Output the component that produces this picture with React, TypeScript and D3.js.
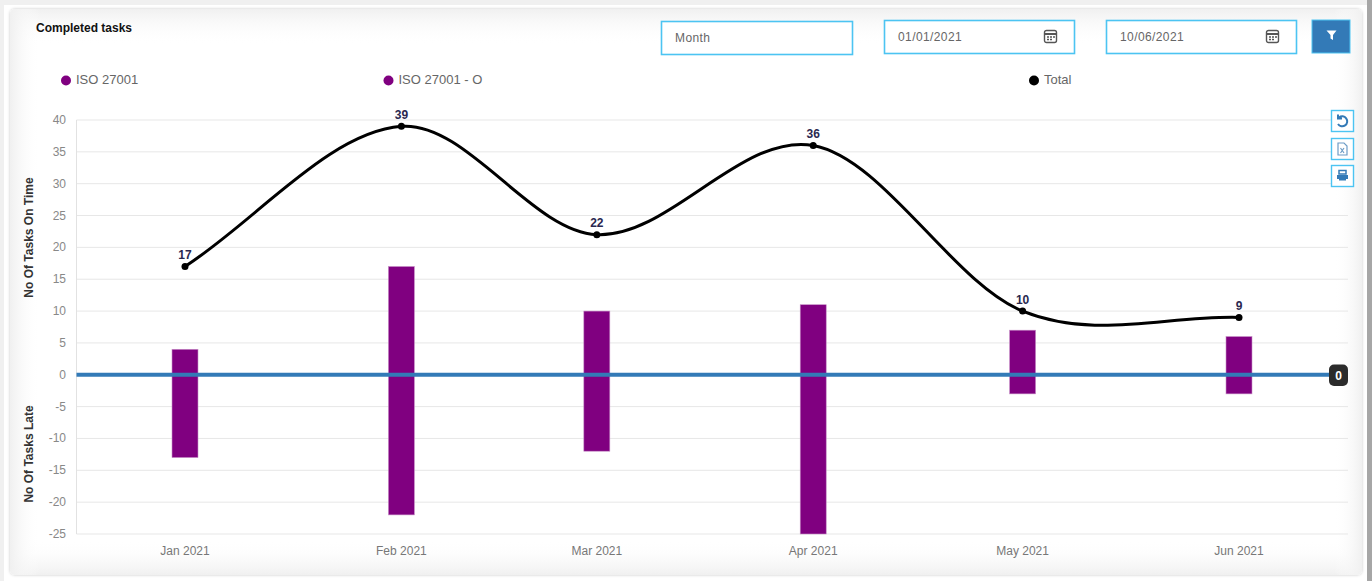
import React from "react";
import * as d3 from "d3";

// Monthly completed-task figures
const months = ["2021-01-01", "2021-02-01", "2021-03-01", "2021-04-01", "2021-05-01", "2021-06-01"];
const monthLabels = ["Jan 2021", "Feb 2021", "Mar 2021", "Apr 2021", "May 2021", "Jun 2021"];
const onTime = [4, 17, 10, 11, 7, 6];
const late = [-13, -22, -12, -25, -3, -3];
const totals = [17, 39, 22, 36, 10, 9];
const yTicks = [40, 35, 30, 25, 20, 15, 10, 5, 0, -5, -10, -15, -20, -25];
const legendItems = [
  { label: "ISO 27001", color: "#800080", x: 66 },
  { label: "ISO 27001 - O", color: "#800080", x: 388.5 },
  { label: "Total", color: "#000000", x: 1034 },
];

const W = 1372;
const H = 581;
const plot = { left: 76.5, right: 1348, top: 120, bottom: 534 };
const FONT = "'Liberation Sans', Arial, sans-serif";
const BLUE = "#337ab7";
const CYAN = "#4cc4f2";

const x = d3
  .scaleUtc()
  .domain([new Date(months[0]), new Date(months[5])])
  .range([185, 1239]);
const y = d3.scaleLinear().domain([40, -25]).range([plot.top, plot.bottom]);

// Smooth spline through the totals: interior tangents follow the neighbouring
// points, end tangents follow the adjacent chord, handles span a third of each gap.
function splinePath(values: number[]): string {
  const pts = values.map((v, i) => [x(new Date(months[i])), y(v)] as [number, number]);
  const slope = (i: number) => {
    const a = pts[Math.max(i - 1, 0)];
    const b = pts[Math.min(i + 1, pts.length - 1)];
    return (b[1] - a[1]) / (b[0] - a[0]);
  };
  const p = d3.path();
  p.moveTo(pts[0][0], pts[0][1]);
  for (let i = 0; i < pts.length - 1; i++) {
    const h = (pts[i + 1][0] - pts[i][0]) / 3;
    p.bezierCurveTo(
      pts[i][0] + h,
      pts[i][1] + slope(i) * h,
      pts[i + 1][0] - h,
      pts[i + 1][1] - slope(i + 1) * h,
      pts[i + 1][0],
      pts[i + 1][1],
    );
  }
  return p.toString();
}

function InputBox({ bx, by, w, text, calendar }: { bx: number; by: number; w: number; text: string; calendar?: boolean }) {
  return (
    <g>
      <rect x={bx + 0.5} y={by + 0.5} width={w} height={33} fill="#fff" stroke={CYAN} strokeWidth={1.6} />
      <text x={bx + 14} y={by + 21} fontSize={12} letterSpacing={0.4} fill="#666">
        {text}
      </text>
      {calendar && (
        <g transform={`translate(${bx + w - 30},${by + 10})`} fill="none" stroke="#555" strokeWidth={1.4}>
          <rect x={0.5} y={0.5} width={12} height={12} rx={2} />
          <path d="M0.5 4H12.5" strokeWidth={2} />
          <path d="M3 7H5M6 7H8M9 7H11M3 9.5H5M6 9.5H8" strokeWidth={1.4} />
        </g>
      )}
    </g>
  );
}

function IconBox({ by, children }: { by: number; children: React.ReactNode }) {
  return (
    <g transform={`translate(1331,${by})`}>
      <rect x={0.5} y={0.5} width={22} height={21} fill="#fff" stroke={CYAN} strokeWidth={1.4} />
      {children}
    </g>
  );
}

export default function App() {
  const barW = 26;
  return (
    <svg
      width={W}
      height={H}
      viewBox={`0 0 ${W} ${H}`}
      style={{ position: "absolute", left: 0, top: 0, fontFamily: FONT }}
    >
      <defs>
        <linearGradient id="topFade" x1="0" x2="0" y1="0" y2="1">
          <stop offset="0" stopColor="#f0f0f0" />
          <stop offset="1" stopColor="#ffffff" stopOpacity={0} />
        </linearGradient>
        <linearGradient id="bottomFade" x1="0" x2="0" y1="0" y2="1">
          <stop offset="0" stopColor="#ffffff" stopOpacity={0} />
          <stop offset="1" stopColor="#f0f0f0" />
        </linearGradient>
        <linearGradient id="leftFade" x1="0" x2="1" y1="0" y2="0">
          <stop offset="0" stopColor="#f0f0f0" />
          <stop offset="1" stopColor="#ffffff" stopOpacity={0} />
        </linearGradient>
        <linearGradient id="rightFade" x1="0" x2="1" y1="0" y2="0">
          <stop offset="0" stopColor="#ffffff" stopOpacity={0} />
          <stop offset="1" stopColor="#f0f0f0" />
        </linearGradient>
        <filter id="cardShadow" x="-2%" y="-2%" width="104%" height="104%">
          <feDropShadow dx={0} dy={0} stdDeviation={1.6} floodColor="#000" floodOpacity={0.22} />
        </filter>
      </defs>

      {/* page backdrop */}
      <rect width={W} height={H} fill="#ffffff" />
      <rect x={0} y={0} width={W} height={5} fill="#f0f0f0" />
      <rect x={0} y={0} width={4} height={H} fill="#f0f0f0" />
      <rect x={1367} y={0} width={5} height={H} fill="#a6a6a6" />

      {/* card */}
      <rect x={10} y={9} width={1352} height={566} rx={5} fill="#fff" filter="url(#cardShadow)" />
      <rect x={10} y={9} width={1352} height={36} rx={5} fill="url(#topFade)" />
      <rect x={10} y={540} width={1352} height={35} rx={5} fill="url(#bottomFade)" />
      <rect x={10} y={9} width={30} height={566} rx={5} fill="url(#leftFade)" />
      <rect x={1334} y={9} width={28} height={566} rx={5} fill="url(#rightFade)" />

      <text x={36} y={32} fontSize={12} fontWeight={700} fill="#111">
        Completed tasks
      </text>

      {/* filter controls */}
      <InputBox bx={661} by={21} w={191} text="Month" />
      <InputBox bx={884} by={20} w={190} text="01/01/2021" calendar />
      <InputBox bx={1106} by={20} w={190} text="10/06/2021" calendar />
      <rect x={1312} y={20} width={38} height={33} fill={BLUE} stroke={CYAN} strokeWidth={1} />
      <path d="M1326.5 30.5H1336.5L1333 35V40L1330.5 38.5V35Z" fill="#fff" />

      {/* legend */}
      {legendItems.map((d) => (
        <g key={d.label}>
          <circle cx={d.x} cy={80.5} r={5} fill={d.color} />
          <text x={d.x + 10} y={83.5} fontSize={13} fill="#666">
            {d.label}
          </text>
        </g>
      ))}

      {/* grid and value axis */}
      {yTicks.map((t) => (
        <g key={t}>
          <line x1={plot.left} x2={plot.right} y1={y(t)} y2={y(t)} stroke="#e7e7e7" strokeWidth={1} />
          <text x={66} y={y(t) + 4} textAnchor="end" fontSize={12} fill="#888">
            {t}
          </text>
        </g>
      ))}
      <line x1={plot.left} x2={plot.left} y1={plot.top} y2={plot.bottom} stroke="#e2e2e2" />

      <text
        transform="translate(33,237.5) rotate(-90)"
        textAnchor="middle"
        fontSize={12}
        fontWeight={700}
        fill="#333"
      >
        No Of Tasks On Time
      </text>
      <text
        transform="translate(33,454) rotate(-90)"
        textAnchor="middle"
        fontSize={12}
        fontWeight={700}
        fill="#333"
      >
        No Of Tasks Late
      </text>

      {/* stacked bars either side of zero */}
      {months.map((m, i) => {
        const cx = x(new Date(m));
        return (
          <g key={m} stroke="#c78fc7" strokeWidth={0.6}>
            <rect x={cx - barW / 2} y={y(onTime[i])} width={barW} height={y(0) - y(onTime[i])} fill="#800080" />
            <rect x={cx - barW / 2} y={y(0)} width={barW} height={y(late[i]) - y(0)} fill="#800080" />
          </g>
        );
      })}

      {/* zero reference line with its badge */}
      <line x1={plot.left} x2={plot.right} y1={y(0)} y2={y(0)} stroke={BLUE} strokeWidth={4} />
      <rect x={1329} y={364.5} width={19} height={21.5} rx={5} fill="#2b2b2b" />
      <text x={1338.5} y={379.5} textAnchor="middle" fontSize={12} fontWeight={700} fill="#fff">
        0
      </text>

      {/* total line */}
      <path d={splinePath(totals)} fill="none" stroke="#000" strokeWidth={3} />
      {totals.map((t, i) => {
        const cx = x(new Date(months[i]));
        return (
          <g key={months[i]}>
            <circle cx={cx} cy={y(t)} r={3.5} fill="#000" />
            <text x={cx} y={y(t) - 7.5} textAnchor="middle" fontSize={12} fontWeight={700} fill="#2a2850">
              {t}
            </text>
          </g>
        );
      })}

      {/* month labels */}
      {months.map((m, i) => (
        <text key={m} x={x(new Date(m))} y={555} textAnchor="middle" fontSize={12} fill="#777">
          {monthLabels[i]}
        </text>
      ))}

      {/* chart toolbar */}
      <IconBox by={110}>
        <path d="M8 7.5A5 5 0 1 1 7 14M7 4.5V8.5H11" fill="none" stroke={BLUE} strokeWidth={2} />
      </IconBox>
      <IconBox by={138}>
        <path d="M7 5H13L16 8V17H7Z" fill="none" stroke="#6d9cc6" strokeWidth={1.2} />
        <path d="M9.5 10L13 15M13 10L9.5 15" fill="none" stroke="#6d9cc6" strokeWidth={1.2} />
      </IconBox>
      <IconBox by={165}>
        <path d="M8 5.5H15V9H8Z" fill="none" stroke={BLUE} strokeWidth={1.5} />
        <path d="M6 10H17V14H6Z" fill={BLUE} />
        <path d="M8 14.5H15" stroke={BLUE} strokeWidth={2} />
      </IconBox>
    </svg>
  );
}
